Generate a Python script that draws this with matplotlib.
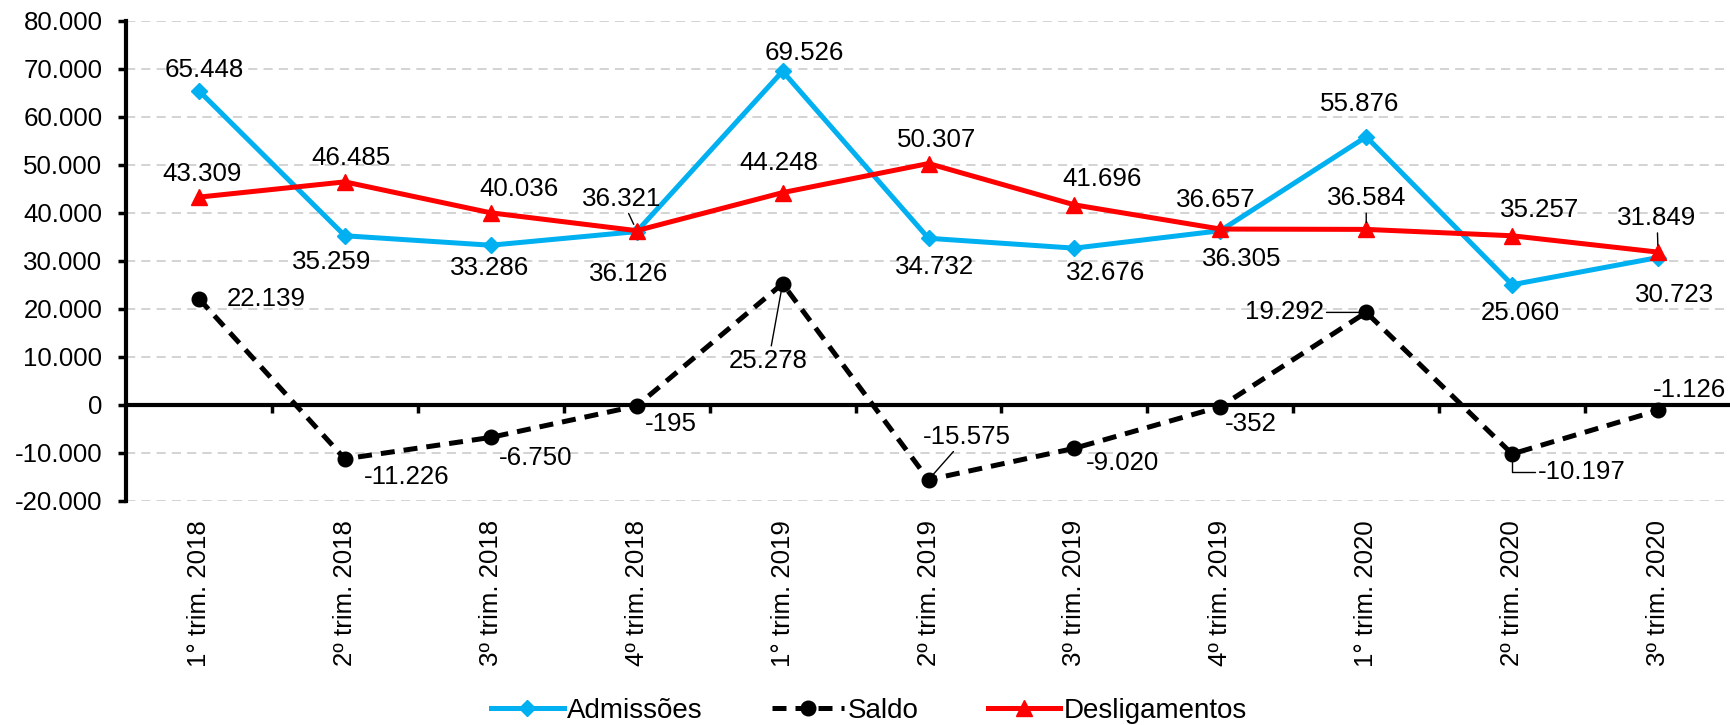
import matplotlib
matplotlib.use("Agg")
import matplotlib.pyplot as plt
from matplotlib.ticker import FuncFormatter, FixedLocator

plt.rcParams['font.family'] = ['Liberation Sans', 'DejaVu Sans']

categories = ["1° trim. 2018", "2º trim. 2018", "3º trim. 2018", "4º trim. 2018",
              "1° trim. 2019", "2º trim. 2019", "3º trim. 2019", "4º trim. 2019",
              "1° trim. 2020", "2º trim. 2020", "3º trim. 2020"]
admissoes = [65448, 35259, 33286, 36126, 69526, 34732, 32676, 36305, 55876, 25060, 30723]
desligamentos = [43309, 46485, 40036, 36321, 44248, 50307, 41696, 36657, 36584, 35257, 31849]
saldo = [22139, -11226, -6750, -195, 25278, -15575, -9020, -352, 19292, -10197, -1126]
yticks = [-20000, -10000, 0, 10000, 20000, 30000, 40000, 50000, 60000, 70000, 80000]

# label offsets in pixels (dx right, dy down)
off_adm = [(5, -21), (-13, 26), (-1, 23), (-8, 42), (22, -18), (6, 29), (31, 25),
           (21, 28), (-7, -33), (8, 28), (16, 37)]
off_des = [(3, -23), (6, -24), (28, -24), (-15, -32), (-4, -30), (8, -24), (28, -26),
           (-5, -29), (0, -31), (27, -26), (-1, -34)]
off_sal = [(67, 0), (62, 18), (45, 21), (34, 18), (-14, 77), (38, -43), (48, 15),
           (30, 17), (-82, 0), (70, 18), (31, -20)]
lead_des = {3, 8, 10}
lead_sal = {4, 5, 8}
elbow_sal = {9}

W, H = 1731, 725
fig = plt.figure(figsize=(W / 100, H / 100), dpi=100)
ax = fig.add_axes([126 / W, (H - 501) / H, (W - 126) / W, 480 / H])

BLUE = '#00B0F0'
RED = '#FF0000'
FS = 18.6

x = list(range(len(categories)))
l1, = ax.plot(x, admissoes, color=BLUE, lw=3.6, marker='D', ms=8, mec=BLUE, mfc=BLUE,
              label='Admissões', zorder=4, solid_joinstyle='miter')
l2, = ax.plot(x, saldo, color='black', lw=3.6, ls=(0, (2.8, 1.8)), marker='o', ms=10.5,
              label='Saldo', zorder=5)
l3, = ax.plot(x, desligamentos, color=RED, lw=3.6, marker='^', ms=11.5,
              label='Desligamentos', zorder=6, solid_joinstyle='miter')

ax.set_xlim(-0.5, 10.5)
ax.set_ylim(-20000, 80000)
ax.yaxis.set_major_locator(FixedLocator(yticks))
ax.yaxis.set_major_formatter(FuncFormatter(lambda v, p: f"{int(v):,}".replace(',', '.')))
ax.grid(axis='y', color='#C8C8C8', ls=(0, (6, 4)), lw=1.1, zorder=0)
ax.set_axisbelow(True)

for s in ['top', 'right']:
    ax.spines[s].set_visible(False)
ax.spines['left'].set_linewidth(3)
ax.spines['bottom'].set_position(('data', 0))
ax.spines['bottom'].set_linewidth(3)
ax.spines['bottom'].set_zorder(3)
ax.tick_params(axis='y', length=6, width=2.5, pad=11, labelsize=FS, colors='black')
ax.set_xticks([i + 0.5 for i in range(len(categories) - 1)])
ax.set_xticklabels([])
ax.tick_params(axis='x', length=6, width=2.5, direction='out')

for i, c in enumerate(categories):
    ax.text(i, -0.0396, c, transform=ax.get_xaxis_transform(), rotation=90,
            ha='center', va='top', fontsize=FS)

def fmt(v):
    return f"{v:,}".replace(',', '.')

def label(series, offs, leads, elbows=()):
    for i, (v, (dx, dy)) in enumerate(zip(series, offs)):
        kw = {}
        if i in leads:
            kw['arrowprops'] = dict(arrowstyle='-', color='black', lw=1, shrinkA=0, shrinkB=5)
        elif i in elbows:
            kw['arrowprops'] = dict(arrowstyle='-', color='black', lw=1, shrinkA=0, shrinkB=6,
                                    connectionstyle='angle,angleA=0,angleB=90,rad=0')
        ax.annotate(fmt(v), xy=(i, v), xytext=(dx, -dy), textcoords='offset pixels',
                    ha='center', va='center', fontsize=FS, zorder=8, **kw)

label(admissoes, off_adm, set())
label(desligamentos, off_des, lead_des)
label(saldo, off_sal, lead_sal, elbow_sal)

leg = fig.legend(handles=[l1, l2, l3], loc='center', bbox_to_anchor=(869 / W, 14 / H),
                 ncol=3, frameon=False, fontsize=20, handlelength=2.6, handletextpad=0.12,
                 columnspacing=2.5, borderaxespad=0, borderpad=0)

fig.savefig('out.png', dpi=100)
